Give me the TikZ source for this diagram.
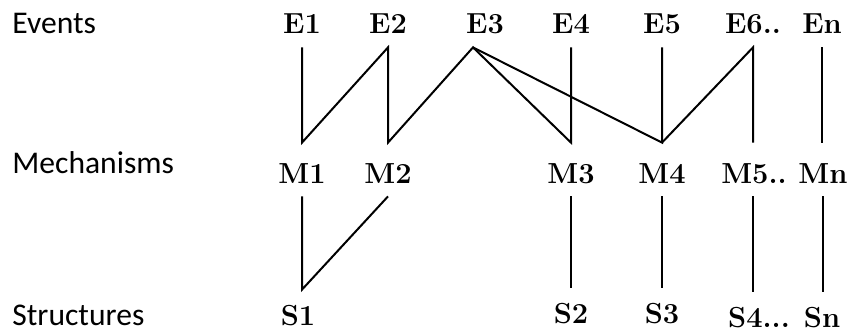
\documentclass[tikz,border=0pt]{standalone}
\usepackage{fontspec}
\newfontfamily\rowfont{Carlito}
\usetikzlibrary{positioning}
\tikzset{
  rowlabel/.style = {anchor=base west, inner sep=0pt,
                     font=\rowfont\fontsize{15.8}{16}\selectfont},
  item/.style     = {anchor=base, inner sep=0pt,
                     font=\bfseries\fontsize{14.5}{15}\selectfont},
  event/.style    = {item, text depth=7pt},
  mech/.style     = {item, text height=20pt, text depth=6.5pt},
  struct/.style   = {item, text height=17.5pt},
  link/.style     = {line width=1pt},
}

\begin{document}
\begin{tikzpicture}[x=0.5pt, y=-0.5pt]
\useasboundingbox (0,0) rectangle (849,332);

% ========== Row titles ==========
\node[rowlabel] (tevents) at (12,33)  {Events};
\node[rowlabel] (tmechs)  at (12,173) {Mechanisms};
\node[rowlabel] (tstruct) at (12,325) {Structures};

% ========== Events ==========
\node[event] (E1) at (302,33) {E1};
\node[event] (E2) at (388,33) {E2};
\node[event] (E3) at (485,33) {E3};
\node[event] (E4) at (571,33) {E4};
\node[event] (E5) at (662,33) {E5};
\node[event] (E6) at (753,33) {E6..};
\node[event] (En) at (822,33) {En};

% ========== Mechanisms ==========
\node[mech] (M1) at (302,183) {M1};
\node[mech] (M2) at (388,183) {M2};
\node[mech] (M3) at (571,183) {M3};
\node[mech] (M4) at (662,183) {M4};
\node[mech] (M5) at (754,183) {M5..};
\node[mech] (Mn) at (823,183) {Mn};

% ========== Structures ==========
\node[struct] (S1) at (298,325) {S1};
\node[struct] (S2) at (571,323) {S2};
\node[struct] (S3) at (662,323) {S3};
\node[struct] (S4) at (759,327) {S4...};
\node[struct] (Sn) at (822,327) {Sn};

\coordinate (e3tip) at ([xshift=-6pt]E3.south);

% events -- mechanisms
\draw[link] (E1.south) -- (M1.north) -- (E2.south) -- (M2.north)
  -- (e3tip) -- (M3.north) -- (E4.south);
\draw[link] (e3tip) -- (M4.north) -- (E5.south);
\draw[link] (M4.north) -- (E6.south) -- (E6.south |- M5.north);
\draw[link] (En.south) -- (En.south |- Mn.north);

% mechanisms -- structures
\draw[link] (M1.south) -- (M1.south |- S1.north) -- (M2.south);
\draw[link] (M3.south) -- (S2.north);
\draw[link] (M4.south) -- (S3.north);
\draw[link] (E6.south |- M5.south) -- (E6.south |- S4.north);
\draw[link] (Mn.south) -- (Mn.south |- Sn.north);

\end{tikzpicture}
\end{document}
